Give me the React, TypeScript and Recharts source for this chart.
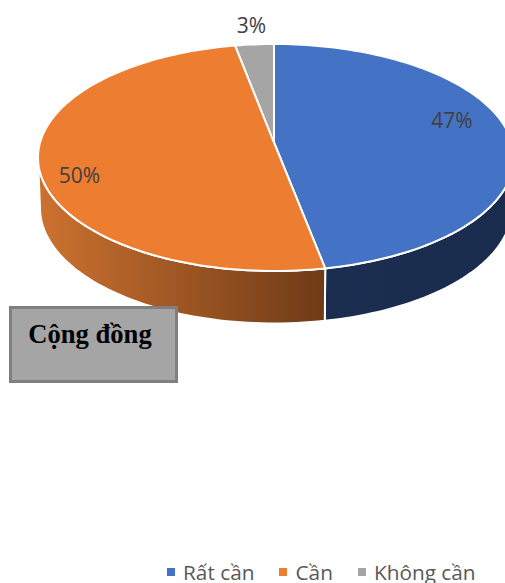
import React from "react";
import { PieChart, Pie, Cell, Legend } from "recharts";

// Series
const categories = ["Rất cần", "Cần", "Không cần"];
const shares = [47, 50, 3];
const topColors = ["#4472C4", "#ED7D31", "#A5A5A5"];
const tableRows = categories.map((name, i) => ({ name, value: shares[i], color: topColors[i] }));

// Disc projection: the rim is an ellipse, the hub sits above its middle because of perspective.
const RIM = { cx: 274, cy: 157.5, rxLeft: 236, rxRight: 240, ry: 113.5 };
const HUB_LIFT = 15;
const DEPTH_RIM = { cx: 274, cy: 208, rxLeft: 234, rxRight: 238, ry: 115.5 };

// Side wall colours as gradient stops, left to right across the chart.
const wallStops = [
  ["#1C2F53", "#1A2C4E"],
  ["#CC7230", "#6E3A16"],
  ["#6E6E6E", "#4E4E4E"],
];

// Each percent label: how far along the radius, plus a nudge in pixels.
const labelPlacement = [
  { factor: 0.78, dx: -5, dy: -14 },
  { factor: 0.85, dx: 5, dy: 14 },
  { factor: 1.12, dx: -1, dy: -9 },
];

const P = HUB_LIFT / RIM.ry;
const SQUEEZE = Math.sqrt(1 - P * P);

// Maps a point of the unit disc to coordinates relative to the rim ellipse's middle.
function project(f: number, clockwiseDeg: number) {
  const t = (clockwiseDeg * Math.PI) / 180;
  const u = f * Math.sin(t);
  const v = -f * Math.cos(t);
  const w = 1 - P * v;
  const a = (u < 0 ? RIM.rxLeft : RIM.rxRight) * SQUEEZE;
  return { x: (a * u) / w, y: (RIM.ry * v - HUB_LIFT) / w };
}

function sectorShape(props: any) {
  const { startAngle, endAngle, index } = props;
  const i: number = index ?? categories.length - 1;
  const from = 90 - startAngle;
  const to = 90 - endAngle;
  const steps = Math.max(6, Math.ceil((to - from) / 1.5));
  const rim: { x: number; y: number }[] = [];
  for (let s = 0; s <= steps; s++) rim.push(project(1, from + ((to - from) * s) / steps));

  const hub = project(0, 0);
  const top =
    `M${RIM.cx + hub.x},${RIM.cy + hub.y} ` +
    rim.map((p) => `L${RIM.cx + p.x},${RIM.cy + p.y}`).join(" ") +
    " Z";

  // Only the front half of the rim has a visible wall.
  const front = rim.filter((p) => p.y >= 0);
  let wall = "";
  if (front.length > 1) {
    const upper = front.map((p) => `${RIM.cx + p.x},${RIM.cy + p.y}`);
    const lower = front
      .map((p) => {
        const c = p.x / (p.x < 0 ? RIM.rxLeft : RIM.rxRight);
        const s = p.y / RIM.ry;
        const r = p.x < 0 ? DEPTH_RIM.rxLeft : DEPTH_RIM.rxRight;
        return `${DEPTH_RIM.cx + r * c},${DEPTH_RIM.cy + DEPTH_RIM.ry * s}`;
      })
      .reverse();
    wall = `M${upper.join(" L")} L${lower.join(" L")} Z`;
  }
  return (
    <g>
      {wall && <path d={wall} fill={`url(#wall-${i})`} stroke="#FFFFFF" strokeWidth={2} />}
      <path d={top} fill={topColors[i]} stroke="#FFFFFF" strokeWidth={2} strokeLinejoin="round" />
    </g>
  );
}

function percentLabel(props: any) {
  const { index, midAngle, value } = props;
  const place = labelPlacement[index];
  const p = project(place.factor, 90 - midAngle);
  return (
    <text
      x={RIM.cx + p.x + place.dx}
      y={RIM.cy + p.y + place.dy}
      textAnchor="middle"
      dominantBaseline="central"
      fontFamily="'Open Sans', sans-serif"
      fontSize={21}
      fill="#404040"
    >
      {value}%
    </text>
  );
}

function legendContent() {
  return (
    <div
      style={{
        display: "flex",
        alignItems: "center",
        gap: 25,
        fontFamily: "'Open Sans', sans-serif",
        fontSize: 20.8,
        color: "#595959",
        whiteSpace: "nowrap",
        lineHeight: "26px",
      }}
    >
      {tableRows.map((row) => (
        <span key={row.name} style={{ display: "inline-flex", alignItems: "center", gap: 8 }}>
          <span style={{ width: 8, height: 8, background: row.color, display: "inline-block" }} />
          {row.name}
        </span>
      ))}
    </div>
  );
}

export default function App() {
  return (
    <div
      style={{
        position: "fixed",
        left: 0,
        top: 0,
        width: 505,
        height: 583,
        overflow: "hidden",
        background: "#FFFFFF",
      }}
    >
      <PieChart width={505} height={583} margin={{ top: 0, right: 0, bottom: 0, left: 0 }}>
        <defs>
          {wallStops.map((stops, i) => (
            <linearGradient key={i} id={`wall-${i}`} gradientUnits="userSpaceOnUse" x1={38} x2={i === 0 ? 505 : 327} y1={0} y2={0}>
              <stop offset="0%" stopColor={stops[0]} />
              <stop offset="100%" stopColor={stops[1]} />
            </linearGradient>
          ))}
        </defs>
        <Pie
          data={tableRows}
          dataKey="value"
          nameKey="name"
          cx={RIM.cx}
          cy={RIM.cy}
          outerRadius={RIM.rxRight}
          startAngle={90}
          endAngle={-270}
          paddingAngle={0}
          isAnimationActive={false}
          shape={sectorShape}
          label={percentLabel}
          labelLine={false}
        >
          {tableRows.map((row) => (
            <Cell key={row.name} fill={row.color} />
          ))}
        </Pie>
        <Legend
          content={legendContent}
          wrapperStyle={{ position: "absolute", left: 167, top: 559, width: "auto", bottom: "auto" }}
        />
      </PieChart>
      <div
        style={{
          position: "absolute",
          left: 9,
          top: 306,
          width: 169,
          height: 77,
          boxSizing: "border-box",
          background: "#A5A5A5",
          border: "3px solid #7F7F7F",
          fontFamily: "'Liberation Serif', serif",
          fontWeight: 700,
          fontSize: 26.6,
          lineHeight: "30px",
          color: "#000000",
          textAlign: "center",
          paddingTop: 10,
          paddingRight: 7,
        }}
      >
        Cộng đồng
      </div>
    </div>
  );
}
